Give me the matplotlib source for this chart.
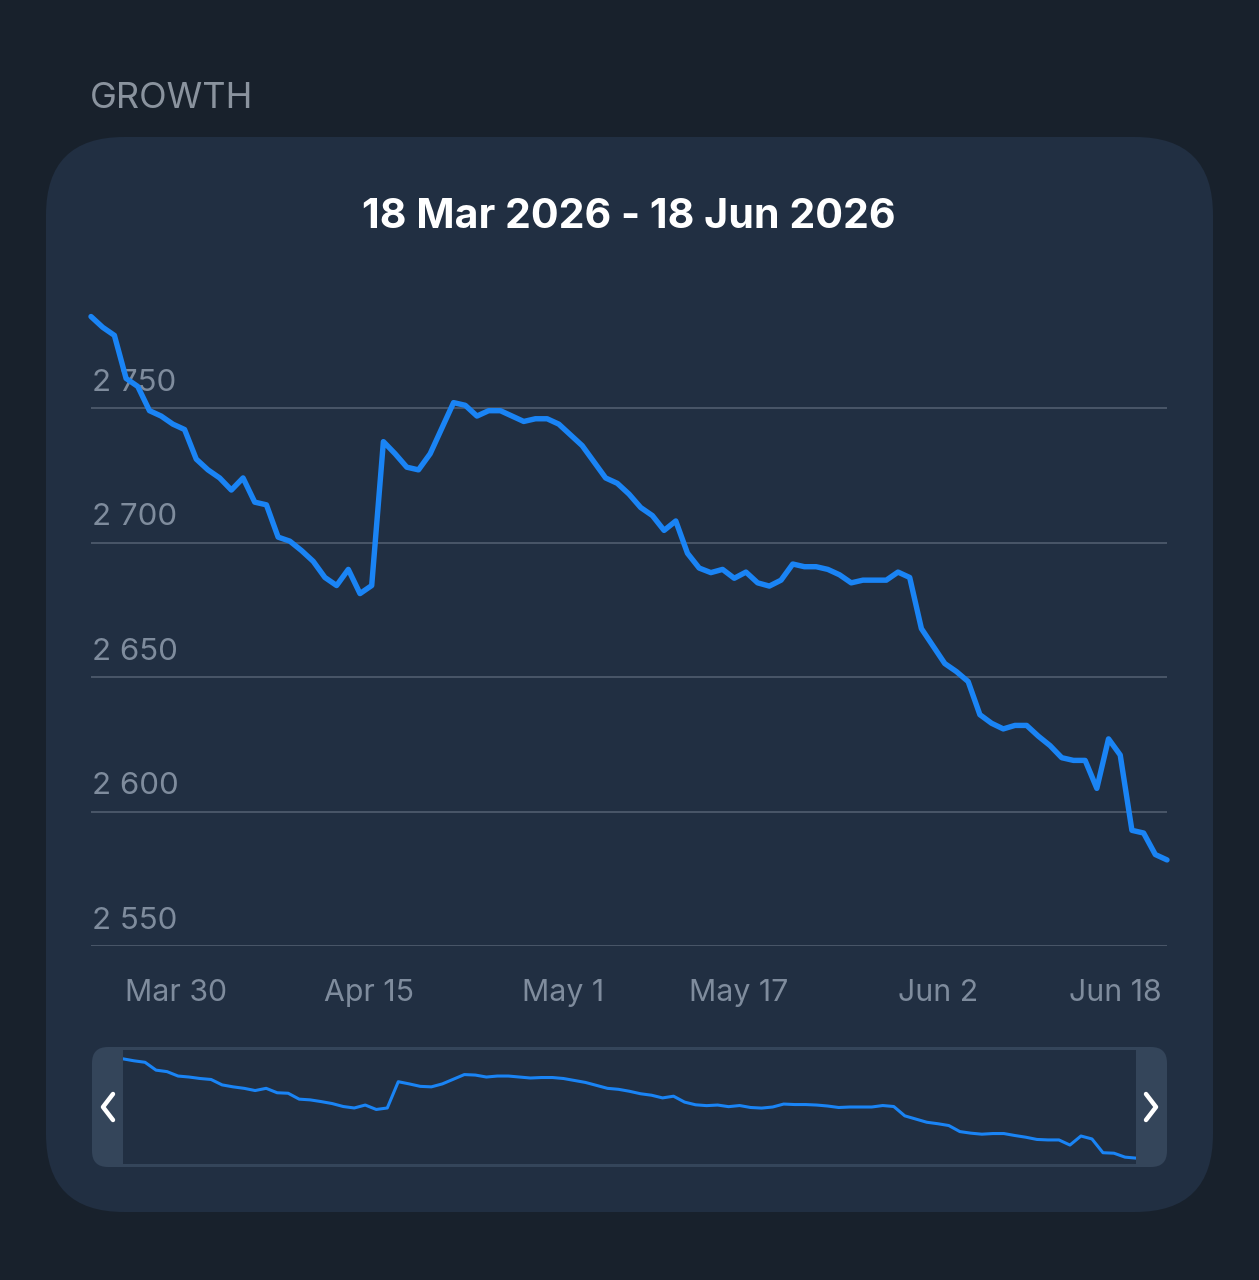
import matplotlib
matplotlib.use("Agg")
import matplotlib.pyplot as plt
from matplotlib.patches import FancyBboxPatch, Rectangle
import matplotlib.transforms as mtransforms

plt.rcParams['font.family'] = ['Inter', 'DejaVu Sans']

# ---------------- data ----------------
section_title = "GROWTH"
chart_title = "18 Mar 2026 - 18 Jun 2026"
followers = [
    2784, 2780, 2777, 2761, 2758, 2749, 2747, 2744, 2742, 2731,
    2727, 2724, 2719.5, 2724, 2715, 2714, 2702, 2700.5, 2697, 2693,
    2687, 2684, 2690, 2681, 2684, 2737.5, 2733, 2728, 2727, 2733,
    2742.5, 2752, 2751, 2747, 2749, 2749, 2747, 2745, 2746, 2746,
    2744, 2740, 2736, 2730, 2724, 2722, 2718, 2713, 2710, 2704.5,
    2708, 2696, 2690.5, 2688.8, 2690, 2686.7, 2689, 2685, 2683.8, 2686,
    2692, 2691, 2691, 2690, 2688, 2685, 2686, 2686, 2686, 2689,
    2687, 2668, 2661.5, 2655, 2652, 2648.3, 2636, 2632.8, 2630.7, 2632,
    2632, 2628, 2624.5, 2620, 2619, 2619, 2608.6, 2627, 2621, 2593,
    2592, 2584, 2582,
]
y_ticks = [2550, 2600, 2650, 2700, 2750]
x_tick_labels = ["Mar 30", "Apr 15", "May 1", "May 17", "Jun 2", "Jun 18"]

# ---------------- style ----------------
W, H = 1259, 1280
BG = "#18212c"
CARD = "#212f42"
GRID = "#4d5a6b"
TICK = "#7f8c9d"
LINE = "#1a84f5"
HANDLE = "#34455a"

fig = plt.figure(figsize=(W / 100, H / 100), dpi=100, facecolor=BG)

# pixel-coordinate background layer
bg = fig.add_axes([0, 0, 1, 1])
bg.set_xlim(0, W)
bg.set_ylim(H, 0)
bg.axis("off")

bg.add_patch(FancyBboxPatch((46 + 78, 137 + 78), 1167 - 156, 1075 - 156,
                            boxstyle="round,pad=78", fc=CARD, ec="none"))
bg.text(90, 99, section_title, fontsize=26, color="#8a939e",
        ha="left", va="center")
bg.text(629, 217, chart_title, fontsize=29.6, fontweight="bold",
        color="white", ha="center", va="center")

# minimap frame
bg.add_patch(FancyBboxPatch((92 + 16, 1047 + 16), 1075 - 32, 120 - 32,
                            boxstyle="round,pad=16", fc=HANDLE, ec="none"))
bg.add_patch(Rectangle((123, 1050), 1136 - 123, 114, fc=CARD, ec="none"))
bg.plot([113, 103, 113], [1094, 1107, 1120], color="white", lw=3.2,
        solid_capstyle="round", solid_joinstyle="round")
bg.plot([1146, 1156, 1146], [1094, 1107, 1120], color="white", lw=3.2,
        solid_capstyle="round", solid_joinstyle="round")

days = list(range(len(followers)))
n_last = len(followers) - 1

# ---------------- main chart ----------------
top_px, bot_px = 273.5, 946
ax = fig.add_axes([91 / W, 1 - bot_px / H, 1076 / W, (bot_px - top_px) / H])
ax.set_facecolor("none")
ax.set_xlim(0, n_last)
ax.set_ylim(2550, 2800)
for s in ax.spines.values():
    s.set_visible(False)
ax.set_yticks(y_ticks)
ax.set_yticklabels([])
ax.tick_params(length=0)
ax.grid(axis="y", color=GRID, lw=1.3)
ax.set_axisbelow(True)
ax.plot(days, followers, color=LINE, lw=3.9, solid_joinstyle="round",
        solid_capstyle="round", clip_on=False, zorder=3)

ytrans = mtransforms.blended_transform_factory(ax.transAxes, ax.transData)
for v in y_ticks:
    t = ax.text(0.001, v, f"{v:,}".replace(",", " "), transform=ytrans,
                fontsize=22.5, color=TICK, ha="left", va="bottom", zorder=2)
    t.set_y(v + 4.2)

# x labels positioned as in the source chart
x_label_pos = [7.27, 23.77, 40.36, 55.4, 72.4, 87.6]
ax.set_xticks(x_label_pos)
ax.set_xticklabels([])
xtrans = mtransforms.blended_transform_factory(ax.transData, ax.transAxes)
for p, lab in zip(x_label_pos, x_tick_labels):
    ax.text(p, -0.0699, lab, transform=xtrans, fontsize=21.8, color=TICK,
            ha="center", va="center")
ax.tick_params(axis="x", length=0)

# ---------------- minimap ----------------
mx0, mx1, my0, my1 = 123, 1136, 1050, 1165
mini = fig.add_axes([mx0 / W, 1 - my1 / H, (mx1 - mx0) / W, (my1 - my0) / H])
mini.set_facecolor("none")
mini.axis("off")
mini.set_xlim(0, n_last)
mini.set_ylim(2568, 2802)
mini.plot(days, followers, color=LINE, lw=2.2, solid_joinstyle="round")

fig.savefig("out.png", dpi=100, facecolor=BG)
